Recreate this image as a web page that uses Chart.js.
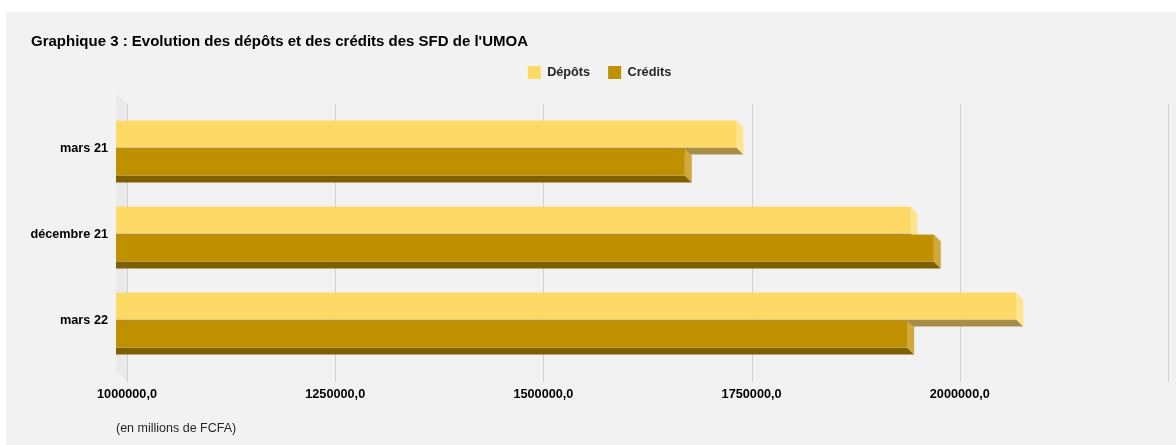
<!DOCTYPE html>
<html>
<head>
<meta charset="utf-8">
<script src="https://cdn.jsdelivr.net/npm/chart.js@4.4.1/dist/chart.umd.min.js"></script>
<style>
  body { margin: 0; background: #ffffff; }
  #panel { position: absolute; left: 6px; top: 12px; width: 1170px; height: 433px; background: #f2f2f2; }
  #note { position: absolute; left: 110px; top: 409px; font: 12.5px "Liberation Sans", Arial, sans-serif; color: #262626; }
</style>
</head>
<body>
<div id="panel">
  <canvas id="graphique" width="1170" height="433"></canvas>
  <div id="note">(en millions de FCFA)</div>
</div>
<script>
const categories = ["mars 21", "décembre 21", "mars 22"];
const depots = [1745000, 1954000, 2081000];
const credits = [1683000, 1982000, 1950000];
const ticksX = [1000000, 1250000, 1500000, 1750000, 2000000, 2250000];

const PROF = 11;   // recul du plan avant vs mur du fond
const EP = 7;      // epaisseur des barres

const faces = [
    { avant: '#FFD966', cote: '#FFE38F', bas: '#A68D48' },
    { avant: '#BF9000', cote: '#D1A83C', bas: '#7F6000' }
];

function poly(ctx, pts, couleur) {
    ctx.fillStyle = couleur;
    ctx.beginPath();
    ctx.moveTo(pts[0][0], pts[0][1]);
    for (let i = 1; i < pts.length; i++) ctx.lineTo(pts[i][0], pts[i][1]);
    ctx.closePath();
    ctx.fill();
}

// dessine le mur, la grille et les barres en "3D"
const barres3d = {
    id: 'barres3d',
    beforeDatasetsDraw(chart) {
        const ctx = chart.ctx;
        const area = chart.chartArea;
        const sx = chart.scales.x;
        const haut = area.top - 12;
        const bas = area.bottom + 8;

        ctx.save();
        poly(ctx, [[area.left, haut], [area.left, bas], [area.left - PROF, bas - PROF], [area.left - PROF, haut - PROF]], '#eaeaea');

        ctx.strokeStyle = '#d0d0d0';
        ctx.lineWidth = 1;
        sx.ticks.forEach(t => {
            const px = Math.round(sx.getPixelForValue(t.value)) + 0.5;
            ctx.beginPath();
            ctx.moveTo(px, haut);
            ctx.lineTo(px, bas);
            ctx.stroke();
        });

        const metas = chart.data.datasets.map((d, i) => chart.getDatasetMeta(i));
        categories.forEach((c, j) => {
            metas.forEach((meta, i) => {
                const el = meta.data[j];
                const p = el.getProps(['x', 'y', 'base', 'height'], true);
                const xl = Math.max(p.base, area.left) - PROF;
                const xr = p.x - PROF;
                const yt = p.y - p.height / 2 - PROF;
                const yb = p.y + p.height / 2 - PROF;
                const f = faces[i];
                poly(ctx, [[xl, yb], [xr, yb], [xr + EP, yb + EP], [xl, yb + EP]], f.bas);
                poly(ctx, [[xr, yt], [xr + EP, yt + EP], [xr + EP, yb + EP], [xr, yb]], f.cote);
                ctx.fillStyle = f.avant;
                ctx.fillRect(xl, yt, xr - xl, yb - yt);
            });
        });
        ctx.restore();
        return false;
    }
};

const police = '"Liberation Sans", Arial, sans-serif';

new Chart(document.getElementById('graphique'), {
    type: 'bar',
    data: {
        labels: categories,
        datasets: [
            { label: 'Dépôts', data: depots, backgroundColor: '#FFD966', borderWidth: 0 },
            { label: 'Crédits', data: credits, backgroundColor: '#BF9000', borderWidth: 0 }
        ]
    },
    options: {
        indexAxis: 'y',
        responsive: false,
        animation: false,
        devicePixelRatio: 1,
        layout: { padding: { left: 25, right: 8, top: 0, bottom: 0 } },
        datasets: { bar: { barPercentage: 0.96, categoryPercentage: 0.65 } },
        plugins: {
            title: {
                display: true,
                text: "Graphique 3 : Evolution des dépôts et des crédits des SFD de l'UMOA",
                align: 'start',
                color: '#000000',
                font: { family: police, size: 15, weight: 'bold' },
                padding: { top: 21, bottom: -3 }
            },
            legend: {
                display: true,
                position: 'top',
                labels: {
                    boxWidth: 13,
                    boxHeight: 13,
                    padding: 18,
                    color: '#262626',
                    font: { family: police, size: 12.7, weight: 'bold' }
                }
            },
            tooltip: { enabled: false }
        },
        scales: {
            x: {
                type: 'linear',
                position: 'bottom',
                min: 1000000,
                max: 2250000,
                grid: { display: false, drawTicks: false },
                border: { display: false },
                ticks: {
                    stepSize: 250000,
                    padding: 13,
                    color: '#000000',
                    font: { family: police, size: 12.7, weight: 'bold' },
                    callback: v => v === ticksX[ticksX.length - 1] ? '' : String(v) + ',0'
                },
                afterBuildTicks: s => { s.ticks = ticksX.map(v => ({ value: v })); },
                afterFit: s => { s.height = 71; s.paddingLeft = 0; s.paddingRight = 0; }
            },
            ecart: {
                type: 'linear',
                position: 'top',
                display: true,
                grid: { display: false, drawTicks: false },
                border: { display: false },
                ticks: { display: false },
                afterFit: s => { s.height = 27; s.paddingLeft = 0; s.paddingRight = 0; }
            },
            y: {
                grid: { display: false, drawTicks: false },
                border: { display: false },
                ticks: {
                    padding: 19,
                    labelOffset: -PROF,
                    color: '#000000',
                    font: { family: police, size: 12.7, weight: 'bold' }
                },
                afterFit: s => { s.width = 96; }
            }
        }
    },
    plugins: [barres3d]
});
</script>
</body>
</html>
